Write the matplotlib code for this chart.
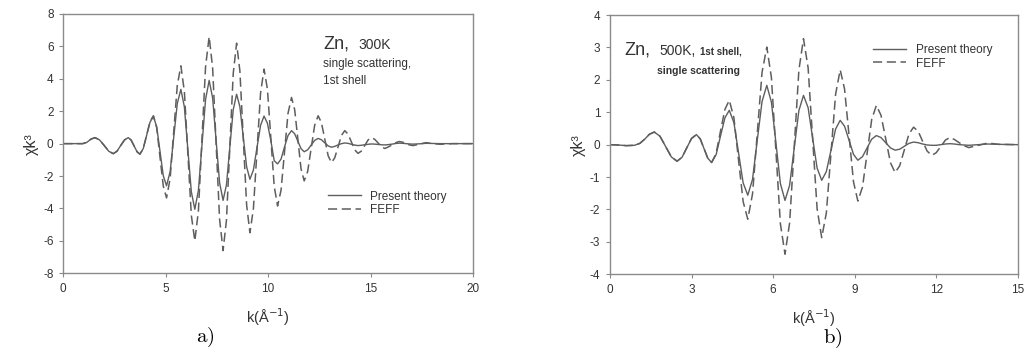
import numpy as np
import matplotlib
matplotlib.use("Agg")
import matplotlib.pyplot as plt

plt.rcParams['font.family'] = ['Liberation Sans', 'DejaVu Sans']
plt.rcParams['axes.unicode_minus'] = False

# ---- Zn 300K, chi(k)*k^3, first shell single scattering ----
k_a = [0.0, 0.5, 0.95, 1.15, 1.35, 1.55, 1.77, 2.0, 2.22, 2.44, 2.62, 2.80, 2.99, 3.17,
       3.31, 3.455, 3.60, 3.74, 3.905, 4.07, 4.235, 4.40,
       4.56, 4.72, 4.88, 5.04,
       5.215, 5.39, 5.565, 5.74,
       5.91, 6.08, 6.25, 6.42,
       6.595, 6.77, 6.945, 7.12,
       7.29, 7.46, 7.63, 7.80,
       7.965, 8.13, 8.295, 8.46,
       8.62, 8.785, 8.95, 9.11,
       9.28, 9.455, 9.63, 9.80,
       9.965, 10.13, 10.295, 10.46,
       10.63, 10.80, 10.97, 11.14,
       11.295, 11.45, 11.605, 11.76,
       11.93, 12.10, 12.27, 12.44,
       12.6, 12.765, 12.93, 13.09,
       13.25, 13.415, 13.58, 13.74,
       13.9, 14.065, 14.23, 14.39,
       14.55, 14.715, 14.88, 15.04,
       15.2, 15.37, 15.535, 15.70,
       15.87, 16.05, 16.23, 16.40,
       16.57, 16.73, 16.9, 17.07,
       17.4, 17.7, 18.05, 18.4,
       19.0, 20.0]

feff_a = [0, 0, 0, 0.08, 0.28, 0.37, 0.23, -0.12, -0.47, -0.62, -0.47, -0.12, 0.23, 0.37,
          0.22, -0.14, -0.50, -0.65, -0.30, 0.54, 1.37, 1.72,
          0.98, -0.82, -2.61, -3.35,
          -2.16, 0.72, 3.61, 4.8,
          3.22, -0.6, -4.42, -6.0,
          -4.15, 0.3, 4.75, 6.6,
          4.67, 0.0, -4.67, -6.6,
          -4.72, -0.2, 4.32, 6.2,
          4.49, 0.35, -3.79, -5.5,
          -4.02, -0.45, 3.12, 4.6,
          3.36, 0.38, -2.61, -3.85,
          -2.87, -0.5, 1.87, 2.85,
          2.1, 0.28, -1.55, -2.3,
          -1.71, -0.29, 1.13, 1.72,
          1.3, 0.28, -0.75, -1.17,
          -0.88, -0.19, 0.51, 0.8,
          0.59, 0.1, -0.39, -0.6,
          -0.46, -0.12, 0.23, 0.37,
          0.27, 0.04, -0.2, -0.3,
          -0.2, -0.08, 0.06, 0.13,
          0.09, 0.0, -0.08, -0.12,
          -0.03, 0.06, 0.0, -0.04,
          0.0, 0.0]

theory_a = [0, 0, 0, 0.08, 0.28, 0.37, 0.23, -0.12, -0.47, -0.62, -0.47, -0.12, 0.23, 0.37,
            0.22, -0.14, -0.50, -0.65, -0.30, 0.52, 1.33, 1.68,
            1.03, -0.47, -1.98, -2.6,
            -1.73, 0.38, 2.48, 3.35,
            2.27, -0.35, -2.97, -4.05,
            -2.89, -0.08, 2.73, 3.9,
            2.82, 0.2, -2.42, -3.5,
            -2.54, -0.22, 2.09, 3.05,
            2.28, 0.42, -1.43, -2.2,
            -1.63, -0.25, 1.13, 1.7,
            1.26, 0.2, -1.05, -1.25,
            -0.95, -0.2, 0.5, 0.8,
            0.61, 0.15, -0.31, -0.5,
            -0.38, -0.09, 0.2, 0.32,
            0.24, 0.05, -0.14, -0.22,
            -0.17, -0.08, 0.0, 0.04,
            0.02, -0.04, -0.09, -0.12,
            -0.1, -0.07, -0.04, -0.02,
            -0.03, -0.05, -0.07, -0.08,
            -0.06, -0.03, 0.01, 0.03,
            0.02, 0.0, -0.02, -0.03,
            -0.01, 0.02, 0.01, 0.0,
            0.0, 0.0]

# ---- Zn 500K ----
k_b = [0.0, 0.3, 0.6, 0.9, 1.1, 1.28, 1.45, 1.63,
       1.84, 2.05, 2.26, 2.47,
       2.65, 2.825, 3.0, 3.18,
       3.32, 3.46, 3.60, 3.74,
       3.905, 4.065, 4.23, 4.39,
       4.56, 4.73, 4.90, 5.07,
       5.245, 5.42, 5.595, 5.77,
       5.94, 6.105, 6.27, 6.44,
       6.61, 6.78, 6.95, 7.12,
       7.29, 7.455, 7.62, 7.79,
       7.96, 8.13, 8.30, 8.47,
       8.63, 8.795, 8.96, 9.12,
       9.29, 9.46, 9.63, 9.80,
       9.97, 10.145, 10.32, 10.49,
       10.66, 10.83, 11.0, 11.17,
       11.34, 11.505, 11.67, 11.84,
       12.0, 12.17, 12.34, 12.5,
       12.67, 12.85, 13.02, 13.2,
       13.55, 13.9, 14.3, 15.0]

feff_b = [0, -0.01, -0.03, -0.02, 0.04, 0.17, 0.32, 0.39,
          0.26, -0.06, -0.38, -0.51,
          -0.39, -0.1, 0.19, 0.31,
          0.18, -0.12, -0.42, -0.55,
          -0.27, 0.41, 1.09, 1.37,
          0.83, -0.47, -1.76, -2.3,
          -1.52, 0.36, 2.23, 3.01,
          2.07, -0.19, -2.44, -3.38,
          -2.41, -0.06, 2.3, 3.27,
          2.37, 0.2, -1.97, -2.87,
          -2.11, -0.28, 1.55, 2.31,
          1.72, 0.29, -1.15, -1.74,
          -1.31, -0.27, 0.78, 1.21,
          0.91, 0.18, -0.56, -0.86,
          -0.65, -0.16, 0.33, 0.54,
          0.41, 0.1, -0.2, -0.33,
          -0.25, -0.06, 0.14, 0.22,
          0.16, 0.06, -0.03, -0.09,
          -0.02, 0.05, 0.01, 0.0]

theory_b = [0, -0.01, -0.03, -0.02, 0.04, 0.17, 0.32, 0.39,
            0.26, -0.06, -0.38, -0.51,
            -0.39, -0.1, 0.19, 0.31,
            0.18, -0.12, -0.42, -0.55,
            -0.31, 0.26, 0.83, 1.06,
            0.68, -0.25, -1.18, -1.56,
            -1.07, 0.14, 1.33, 1.83,
            1.31, 0.06, -1.2, -1.72,
            -1.25, -0.1, 1.05, 1.52,
            1.14, 0.21, -0.72, -1.1,
            -0.83, -0.18, 0.48, 0.75,
            0.57, 0.14, -0.3, -0.48,
            -0.37, -0.1, 0.17, 0.28,
            0.22, 0.06, -0.1, -0.17,
            -0.14, -0.05, 0.04, 0.08,
            0.06, 0.02, -0.01, -0.02,
            -0.02, 0.0, 0.02, 0.03,
            0.02, 0.0, -0.01, -0.02,
            0.0, 0.02, 0.01, 0.0]

xticks_a = [0, 5, 10, 15, 20]
yticks_a = [-8, -6, -4, -2, 0, 2, 4, 6, 8]
xticks_b = [0, 3, 6, 9, 12, 15]
yticks_b = [-4, -3, -2, -1, 0, 1, 2, 3, 4]

LINE = '#5e5e5e'
TXT = '#333333'

fig = plt.figure(figsize=(10.26, 3.54), dpi=100)
axA = fig.add_axes([0.0617, 0.228, 0.3993, 0.7325])
axB = fig.add_axes([0.5945, 0.2251, 0.3974, 0.7325])


def style(ax, xt, yt):
    ax.set_xlim(xt[0], xt[-1])
    ax.set_ylim(yt[0], yt[-1])
    ax.set_xticks(xt)
    ax.set_yticks(yt)
    for s in ax.spines.values():
        s.set_color('#8a8a8a')
        s.set_linewidth(1.0)
    ax.tick_params(direction='out', length=3, width=0.8, color='#8a8a8a',
                   labelsize=8.5, labelcolor=TXT, pad=4)
    ax.set_ylabel('χk³', fontsize=11.5, color=TXT, labelpad=3)
    ax.set_xlabel('k(Å$^{-1}$)', fontsize=10.5, color=TXT, labelpad=8)


# panel a
style(axA, xticks_a, yticks_a)
axA.plot(k_a, theory_a, color=LINE, lw=1.0, label='Present theory')
axA.plot(k_a, feff_a, color=LINE, lw=1.1, dashes=(6, 3), label='FEFF')
axA.text(0.635, 0.885, 'Zn,', transform=axA.transAxes, fontsize=13, color=TXT, va='center')
axA.text(0.72, 0.882, '300K', transform=axA.transAxes, fontsize=10, color=TXT, va='center')
axA.text(0.635, 0.808, 'single scattering,', transform=axA.transAxes, fontsize=8.5, color=TXT, va='center')
axA.text(0.635, 0.74, '1st shell', transform=axA.transAxes, fontsize=8.5, color=TXT, va='center')
axA.legend(loc='upper left', bbox_to_anchor=(0.62, 0.36), frameon=False, fontsize=8.5,
           handlelength=2.8, handletextpad=0.8, labelspacing=0.15, labelcolor=TXT)
fig.text(205 / 1026, 1 - 337 / 354, r'$\mathrm{a)}$', math_fontfamily='cm', fontsize=15,
         ha='center', va='center')

# panel b
style(axB, xticks_b, yticks_b)
axB.plot(k_b, theory_b, color=LINE, lw=1.0, label='Present theory')
axB.plot(k_b, feff_b, color=LINE, lw=1.1, dashes=(6, 3), label='FEFF')
axB.text(0.035, 0.865, 'Zn,', transform=axB.transAxes, fontsize=13, color=TXT, va='center')
axB.text(0.122, 0.863, '500K,', transform=axB.transAxes, fontsize=10, color=TXT, va='center')
axB.text(0.222, 0.861, '1st shell,', transform=axB.transAxes, fontsize=7, color=TXT,
         va='center', fontweight='bold')
axB.text(0.115, 0.785, 'single scattering', transform=axB.transAxes, fontsize=7.5, color=TXT,
         va='center', fontweight='bold')
axB.legend(loc='upper left', bbox_to_anchor=(0.62, 0.93), frameon=False, fontsize=8.5,
           handlelength=2.8, handletextpad=0.8, labelspacing=0.15, labelcolor=TXT)
fig.text(833 / 1026, 1 - 338 / 354, r'$\mathrm{b)}$', math_fontfamily='cm', fontsize=15,
         ha='center', va='center')

fig.savefig('out.png', dpi=100)
